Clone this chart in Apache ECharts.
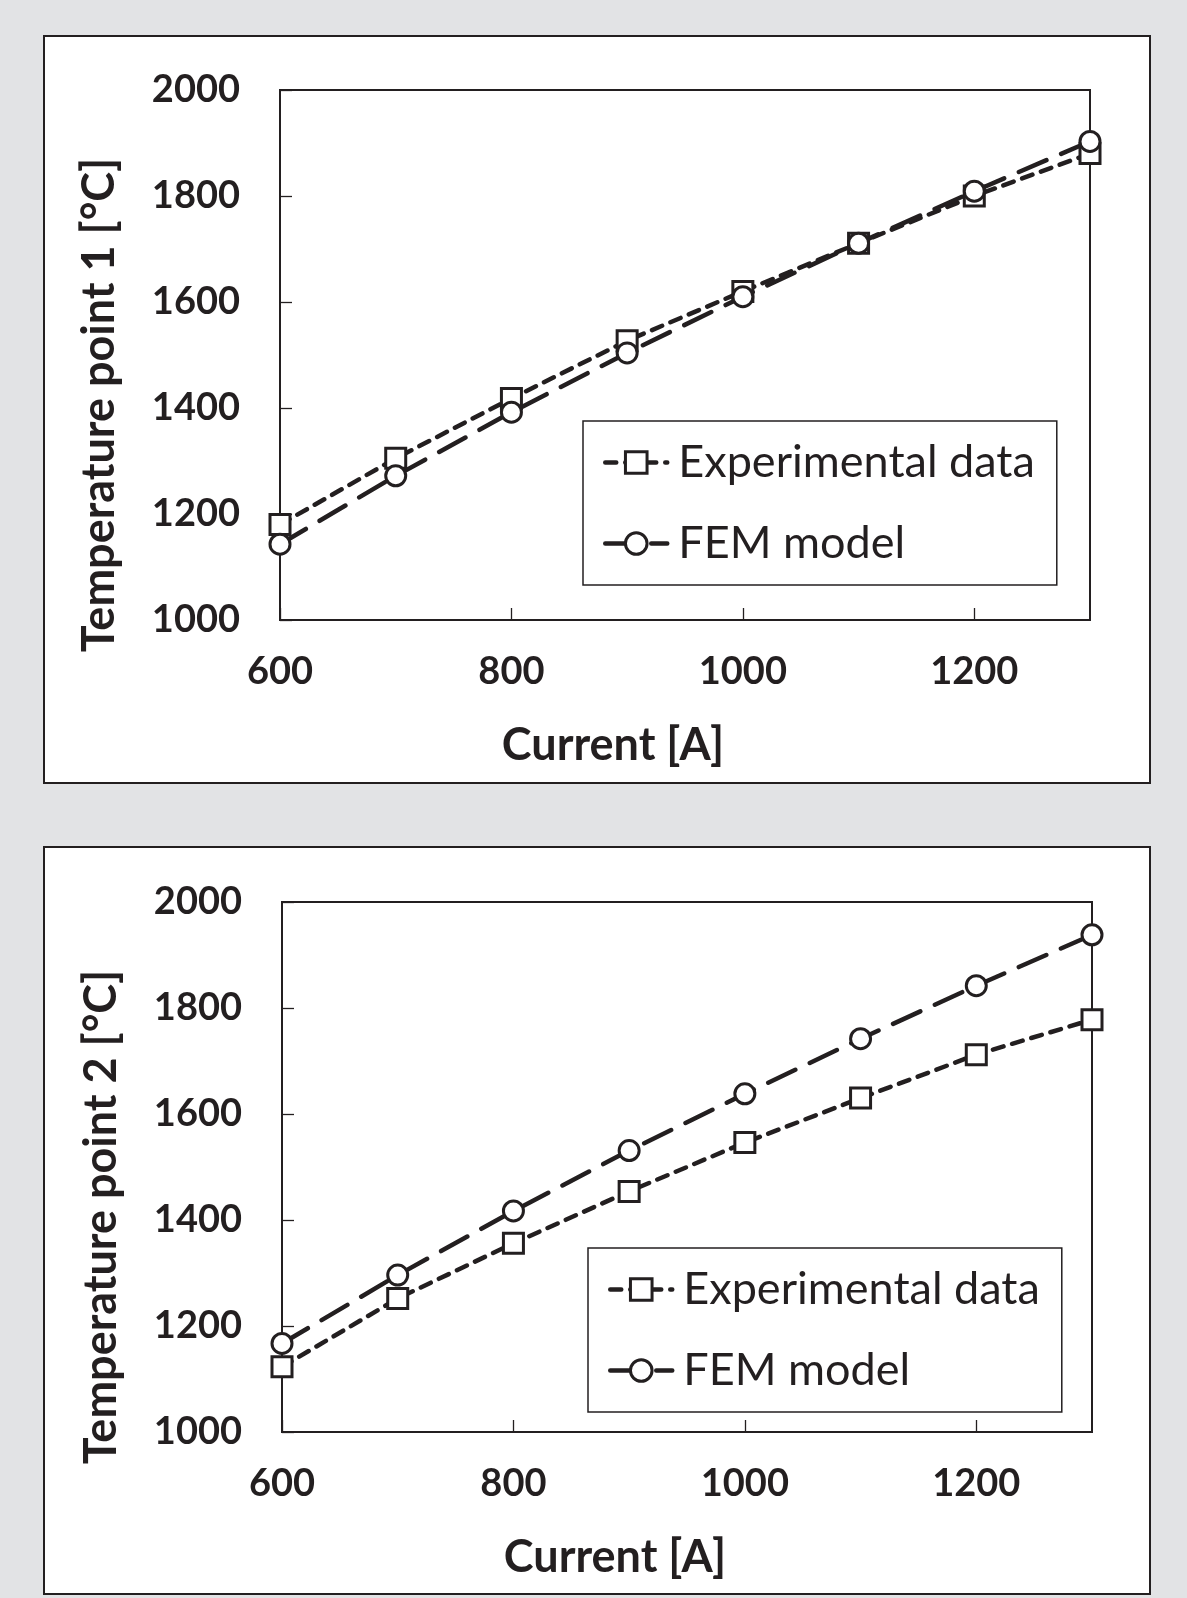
<!DOCTYPE html>
<html>
<head>
<meta charset="utf-8">
<script src="https://cdn.jsdelivr.net/npm/echarts@6/dist/echarts.min.js"></script>
<style>
  html, body { margin: 0; padding: 0; background: #e2e3e5; width: 1187px; height: 1598px; overflow: hidden; }
  .panel { position: absolute; left: 43px; width: 1108px; height: 749px; box-sizing: border-box;
           border: 2px solid #231f20; background: #ffffff; }
  .chart { width: 1104px; height: 745px; }
</style>
</head>
<body>
<div class="panel" style="top:35px"><div id="c1" class="chart"></div></div>
<div class="panel" style="top:846px"><div id="c2" class="chart"></div></div>
<script>
// ---- data ----
const currents = [600, 700, 800, 900, 1000, 1100, 1200, 1300];
const exp1 = [1180, 1305, 1418, 1527, 1620, 1711, 1800, 1880];
const fem1 = [1143, 1272, 1392, 1504, 1610, 1711, 1809, 1903];
const exp2 = [1123, 1252, 1356, 1454, 1546, 1630, 1712, 1778];
const fem2 = [1167, 1296, 1417, 1531, 1638, 1742, 1842, 1938];
const seriesNames = ['Experimental data', 'FEM model'];
const xTitle = 'Current [A]';
const yTitle1 = 'Temperature point 1 [°C]';
const yTitle2 = 'Temperature point 2 [°C]';

const INK = '#231f20';
const FONT = 'Lato, "Open Sans", sans-serif';

function pairs(xs, ys) { return xs.map((x, i) => [x, ys[i]]); }

function buildOption(expVals, femVals, yTitle, grid, legendPos) {
  const common = {
    type: 'line',
    symbolSize: 20,
    showAllSymbol: true,
    itemStyle: { color: '#ffffff', borderColor: INK, borderWidth: 3 },
    emphasis: { disabled: true },
    z: 3
  };
  return {
    animation: false,
    backgroundColor: '#ffffff',
    textStyle: { fontFamily: FONT },
    grid: Object.assign({ show: true, borderColor: INK, borderWidth: 2, backgroundColor: 'transparent' }, grid),
    legend: {
      orient: 'vertical',
      left: legendPos.left, top: legendPos.top,
      backgroundColor: '#ffffff',
      borderColor: INK, borderWidth: 1.5,
      padding: [19, 22, 19, 20],
      itemGap: 36,
      itemWidth: 62, itemHeight: 27,
      lineStyle: { width: 4.5 },
      itemStyle: { borderWidth: 3 },
      textStyle: { fontFamily: FONT, fontSize: 45, color: INK, padding: [0, 0, 0, 6] },
      data: seriesNames,
      selectedMode: false
    },
    xAxis: {
      type: 'value', min: 600, max: 1300, interval: 200,
      name: xTitle, nameLocation: 'middle', nameGap: 103,
      nameTextStyle: { fontFamily: FONT, fontWeight: 'bold', fontSize: 45, color: INK, padding: [0, 144, 0, 0] },
      axisLine: { show: true, lineStyle: { color: INK, width: 2 } },
      axisTick: { show: true, inside: true, length: 12, lineStyle: { color: INK, width: 1.3 } },
      axisLabel: { fontFamily: FONT, fontWeight: 'bold', fontSize: 38, color: INK, margin: 33, showMaxLabel: false,
                   formatter: v => String(v) },
      splitLine: { show: false }
    },
    yAxis: {
      type: 'value', min: 1000, max: 2000, interval: 200,
      name: yTitle, nameLocation: 'middle', nameGap: 158,
      nameTextStyle: { fontFamily: FONT, fontWeight: 'bold', fontSize: 45, color: INK, padding: [0, 100, 0, 0] },
      axisLine: { show: true, lineStyle: { color: INK, width: 2 } },
      axisTick: { show: true, inside: true, length: 12, lineStyle: { color: INK, width: 1.3 } },
      axisLabel: { fontFamily: FONT, fontWeight: 'bold', fontSize: 38, color: INK, margin: 40,
                   formatter: v => String(v) },
      splitLine: { show: false }
    },
    series: [
      Object.assign({}, common, {
        name: seriesNames[0], symbol: 'rect',
        lineStyle: { color: INK, width: 4.5, type: [11, 9], cap: 'round' },
        data: pairs(currents, expVals)
      }),
      Object.assign({}, common, {
        name: seriesNames[1], symbol: 'circle',
        lineStyle: { color: INK, width: 4.5, type: [30, 16], cap: 'round' },
        data: pairs(currents, femVals)
      })
    ]
  };
}

const c1 = echarts.init(document.getElementById('c1'), null, { renderer: 'canvas' });
c1.setOption(buildOption(exp1, fem1, yTitle1,
  { left: 235, top: 53, width: 810, height: 530 },
  { left: 538, top: 384 }));

const c2 = echarts.init(document.getElementById('c2'), null, { renderer: 'canvas' });
c2.setOption(buildOption(exp2, fem2, yTitle2,
  { left: 237, top: 54, width: 810, height: 530 },
  { left: 543, top: 400 }));
</script>
</body>
</html>
